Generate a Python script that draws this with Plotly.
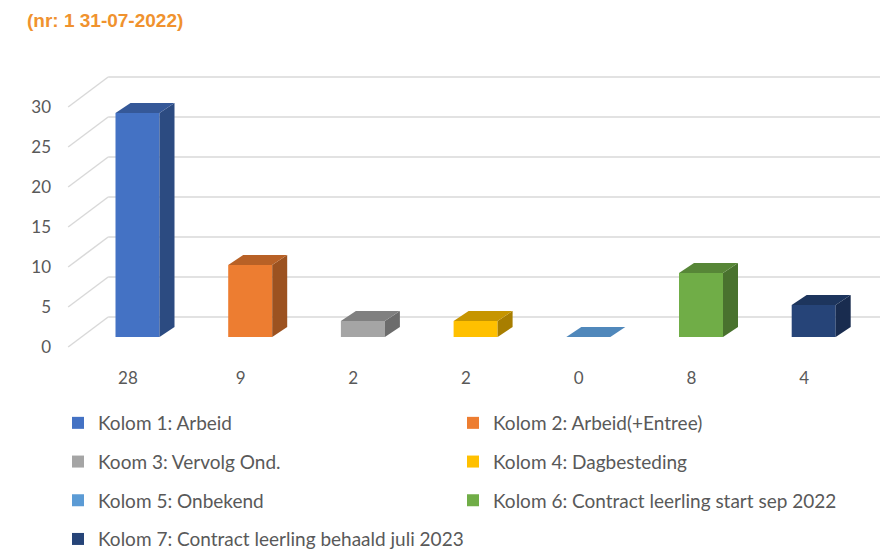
import plotly.graph_objects as go

# ---------------- data ----------------
categories = [
    "Kolom 1: Arbeid",
    "Kolom 2: Arbeid(+Entree)",
    "Koom 3: Vervolg Ond.",
    "Kolom 4: Dagbesteding",
    "Kolom 5: Onbekend",
    "Kolom 6: Contract leerling start sep 2022",
    "Kolom 7: Contract leerling behaald juli 2023",
]
values = [28, 9, 2, 2, 0, 8, 4]
value_labels = ["28", "9", "2", "2", "0", "8", "4"]
colors = ["#4472C4", "#ED7D31", "#A5A5A5", "#FFC000", "#5B9BD5", "#70AD47", "#264478"]
y_ticks = [0, 5, 10, 15, 20, 25, 30]
title_text = "(nr: 1 31-07-2022)"

# ---------------- projection / style constants ----------------
W, H = 880, 546       # page body has an 8px margin
PX_X = 112.7          # pixels per category
PX_Y = 8.0            # pixels per unit
WALL_DX = 40 / PX_X   # depth of the walls (oblique projection)
WALL_DY = 30 / PX_Y
BAR_OFF_X = 13 / PX_X
BAR_BASE = 10 / PX_Y
BAR_DX = 15 / PX_X
BAR_DY = 10 / PX_Y
BAR_W = 44 / PX_X
X_RANGE = [(58 - 124.5) / PX_X, (888 - 124.5) / PX_X]
Y_RANGE = [(347 - 360) / PX_Y, (347 - 50) / PX_Y]
GRID = "#D9D9D9"
TXT = "#595959"
FONT = "Lato, 'Open Sans', sans-serif"


def shade(hex_color, k):
    h = hex_color.lstrip("#")
    r, g, b = (int(h[i:i + 2], 16) for i in (0, 2, 4))
    return "rgb({},{},{})".format(int(r * k), int(g * k), int(b * k))


fig = go.Figure()

# back wall gridlines and side wall diagonals (below the bars)
wall_left = -0.5
wall_right = len(categories) - 0.5 + WALL_DX + 0.5
for v in y_ticks:
    fig.add_shape(type="line", xref="x", yref="y", layer="below",
                  x0=wall_left, y0=v, x1=wall_left + WALL_DX, y1=v + WALL_DY,
                  line=dict(color=GRID, width=1.5))
    fig.add_shape(type="line", xref="x", yref="y", layer="below",
                  x0=wall_left + WALL_DX, y0=v + WALL_DY, x1=wall_right, y1=v + WALL_DY,
                  line=dict(color=GRID, width=1.5))

# bars: front faces as real bars, top/side faces as polygons
for i, (cat, val, col) in enumerate(zip(categories, values, colors)):
    xc = i + BAR_OFF_X
    x0, x1 = xc - BAR_W / 2, xc + BAR_W / 2
    top = BAR_BASE + val
    legend = "legend" if i % 2 == 0 else "legend2"
    # side face
    fig.add_trace(go.Scatter(
        x=[x1, x1 + BAR_DX, x1 + BAR_DX, x1, x1],
        y=[BAR_BASE, BAR_BASE + BAR_DY, top + BAR_DY, top, BAR_BASE],
        fill="toself", fillcolor=shade(col, 0.66), mode="lines",
        line=dict(width=0, color=shade(col, 0.66)),
        hoverinfo="skip", showlegend=False, legendgroup=cat, legend=legend))
    # top face
    fig.add_trace(go.Scatter(
        x=[x0, x1, x1 + BAR_DX, x0 + BAR_DX, x0],
        y=[top, top, top + BAR_DY, top + BAR_DY, top],
        fill="toself", fillcolor=shade(col, 0.78 if val > 0 else 0.88), mode="lines",
        line=dict(width=0, color=shade(col, 0.78)),
        hoverinfo="skip", showlegend=False, legendgroup=cat, legend=legend))
    # front face
    fig.add_trace(go.Bar(
        x=[xc], y=[val], base=[BAR_BASE], width=[BAR_W],
        marker=dict(color=col, line=dict(width=0)),
        name=cat, legendgroup=cat, legend=legend, showlegend=True))

fig.update_layout(
    width=W, height=H,
    margin=dict(l=50, r=0, t=42, b=194, autoexpand=False),
    paper_bgcolor="white", plot_bgcolor="white",
    font=dict(family=FONT, color=TXT, size=16),
    barmode="overlay",
    title=dict(text="<b>" + title_text + "</b>", xref="container", yref="container",
               x=19 / W, xanchor="left", y=1 - 12 / H, yanchor="middle",
               font=dict(family="'Liberation Sans', Arial, sans-serif", size=19, color="#F0922E")),
    xaxis=dict(range=X_RANGE, showgrid=False, zeroline=False, showline=False,
               tickmode="array", tickvals=[i + 0.03 for i in range(len(values))],
               ticktext=value_labels, ticks="", ticklabelstandoff=6,
               tickfont=dict(size=17, color=TXT, family=FONT)),
    yaxis=dict(range=Y_RANGE, showgrid=False, zeroline=False, showline=False,
               tickmode="array", tickvals=y_ticks, ticks="", ticklabelstandoff=6,
               tickfont=dict(size=17, color=TXT, family=FONT)),
    legend=dict(xref="container", yref="container", x=50 / W, y=1 - 396 / H,
                xanchor="left", yanchor="top", tracegroupgap=11,
                font=dict(size=19, color=TXT, family=FONT), bgcolor="rgba(0,0,0,0)"),
    legend2=dict(xref="container", yref="container", x=445 / W, y=1 - 396 / H,
                 xanchor="left", yanchor="top", tracegroupgap=11,
                 font=dict(size=19, color=TXT, family=FONT), bgcolor="rgba(0,0,0,0)"),
)

fig.write_html("out.html")
